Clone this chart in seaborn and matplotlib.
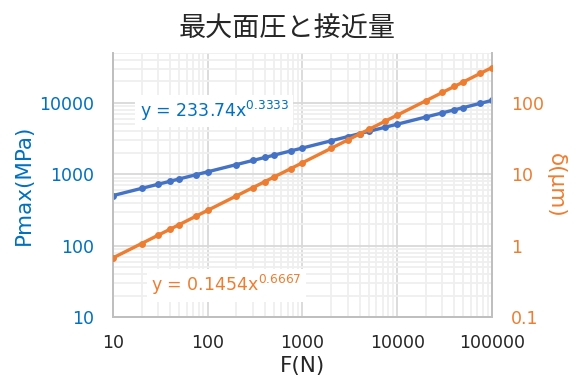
import numpy as np
import pandas as pd
import matplotlib
matplotlib.use('Agg')
import matplotlib.pyplot as plt
import seaborn as sns
from matplotlib.ticker import FixedLocator, LogLocator, NullFormatter, FuncFormatter

sns.set_style('white')
plt.rcParams['font.family'] = ['DejaVu Sans', 'Noto Sans CJK JP']

# Data
force = [10, 20, 30, 40, 50, 75, 100, 200, 300, 400, 500, 750, 1000, 2000, 3000, 4000,
         5000, 7500, 10000, 20000, 30000, 40000, 50000, 75000, 100000]
pmax = [504, 635, 726, 799, 861, 986, 1085, 1367, 1565, 1722, 1855, 2124, 2337, 2945, 3371,
        3710, 3997, 4575, 5036, 6345, 7263, 7994, 8611, 9857, 10849]
delta = [0.675, 1.071, 1.404, 1.701, 1.973, 2.586, 3.133, 4.973, 6.516, 7.894, 9.160, 12.00,
         14.54, 23.08, 30.24, 36.64, 42.52, 55.71, 67.49, 107.1, 140.4, 170.1, 197.3, 258.6, 313.3]
eq_pmax = 'y = 233.74x$\\mathregular{^{0.3333}}$'
eq_delta = 'y = 0.1454x$\\mathregular{^{0.6667}}$'

df = pd.DataFrame({'F': force, 'Pmax': pmax, 'delta': delta})

blue_line = '#4472C4'
blue_text = '#0070C0'
orange = '#ED7D31'
grid_major = '#d9d9d9'
grid_minor = '#efefef'

fig = plt.figure(figsize=(5.81, 3.90), dpi=100)
ax = fig.add_axes([0.1945, 0.187, 0.8468 - 0.1945, 0.864 - 0.187])
ax2 = ax.twinx()

sns.lineplot(data=df, x='F', y='Pmax', ax=ax, color=blue_line, linewidth=2.4,
             marker='o', markersize=5, markeredgewidth=0, zorder=3)
sns.lineplot(data=df, x='F', y='delta', ax=ax2, color=orange, linewidth=2.4,
             marker='o', markersize=5, markeredgewidth=0, zorder=3)

for a in (ax, ax2):
    a.set_xscale('log')
    a.set_yscale('log')
ax.set_xlim(10, 100000)
ax.set_ylim(10, 50000)
ax2.set_ylim(0.1, 500)

fmt = FuncFormatter(lambda v, p: ('%g' % v))
ax.xaxis.set_major_locator(FixedLocator([10, 100, 1000, 10000, 100000]))
ax.xaxis.set_minor_locator(LogLocator(base=10, subs=np.arange(2, 10)))
ax.xaxis.set_major_formatter(fmt)
ax.xaxis.set_minor_formatter(NullFormatter())
ax.yaxis.set_major_locator(FixedLocator([10, 100, 1000, 10000]))
ax.yaxis.set_minor_locator(LogLocator(base=10, subs=np.arange(2, 10)))
ax.yaxis.set_major_formatter(fmt)
ax.yaxis.set_minor_formatter(NullFormatter())
ax2.yaxis.set_major_locator(FixedLocator([0.1, 1, 10, 100]))
ax2.yaxis.set_minor_locator(LogLocator(base=10, subs=np.arange(2, 10)))
ax2.yaxis.set_major_formatter(fmt)
ax2.yaxis.set_minor_formatter(NullFormatter())

ax.grid(which='major', color=grid_major, linewidth=1.3)
ax.grid(which='minor', color=grid_minor, linewidth=1.3)
ax.set_axisbelow(True)

for a in (ax, ax2):
    a.tick_params(which='both', length=0)
    a.spines['top'].set_visible(False)
    for side in ('left', 'bottom', 'right'):
        a.spines[side].set_color('#bfbfbf')
        a.spines[side].set_linewidth(1.3)

ax.tick_params(axis='x', labelsize=12.5, labelcolor='#262626', pad=12)
ax.tick_params(axis='y', labelsize=12.5, labelcolor=blue_text, pad=13.5)
ax2.tick_params(axis='y', labelsize=12.5, labelcolor=orange, pad=13.5)

ax.set_xlabel('F(N)', fontsize=15.5, color='#262626', labelpad=3)
ax.set_ylabel('Pmax(MPa)', fontsize=15.5, color=blue_text, labelpad=4)
ax2.set_ylabel('δ(μm)', fontsize=15.5, color=orange, rotation=-90, labelpad=16)
fig.text(0.494, 0.925, '最大面圧と接近量', fontsize=19.5, color='#262626',
         ha='center', va='center', family=['Noto Sans CJK JP', 'DejaVu Sans'])

ax.text(0.07, 0.78, eq_pmax, transform=ax.transAxes, fontsize=12.5, color=blue_text,
        ha='left', va='center', zorder=5,
        bbox=dict(facecolor='white', edgecolor='none', pad=3))
ax2.text(0.10, 0.12, eq_delta, transform=ax2.transAxes, fontsize=12.5, color=orange,
         ha='left', va='center', zorder=5,
         bbox=dict(facecolor='white', edgecolor='none', pad=3))

fig.savefig('out.png', dpi=100)
